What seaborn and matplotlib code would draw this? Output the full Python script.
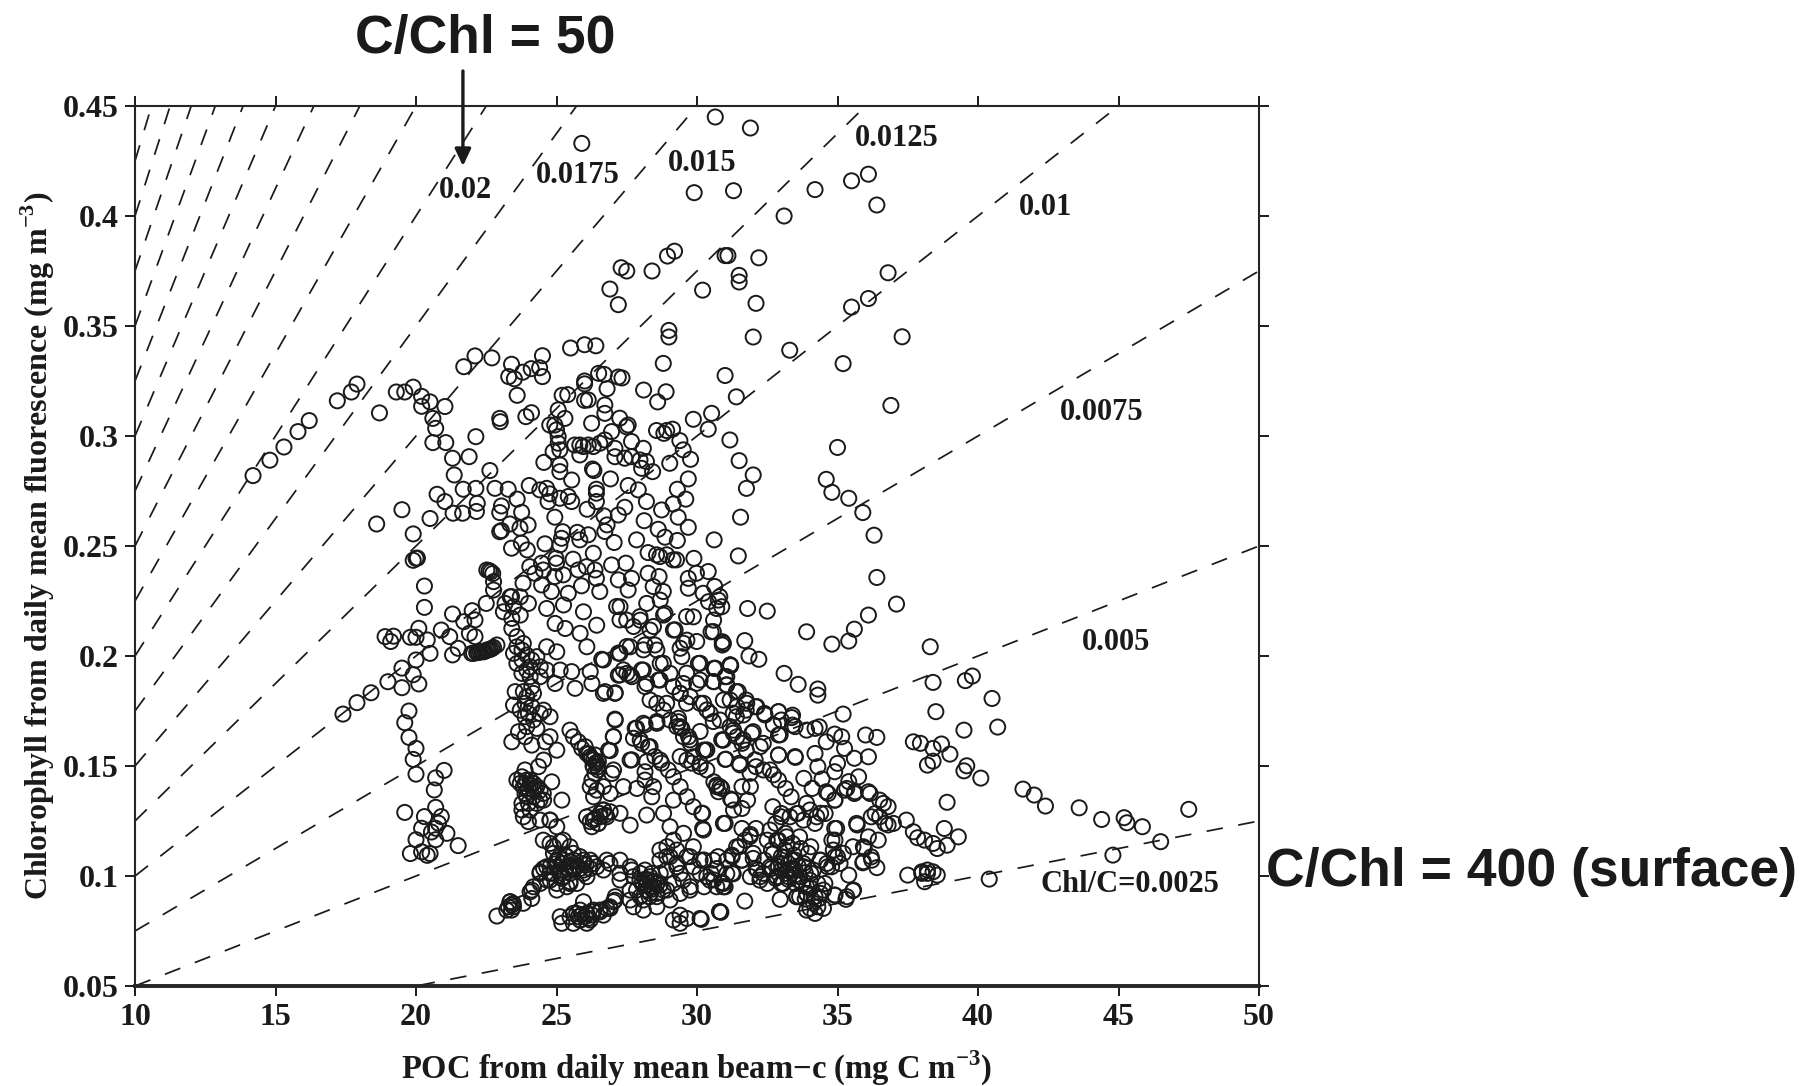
import pandas as pd
import seaborn as sns
from matplotlib import pyplot as plt

sns.set_theme(style='ticks')
plt.rcParams['font.family'] = ['Liberation Serif', 'DejaVu Sans']
plt.rcParams['font.weight'] = 'bold'
plt.rcParams['text.color'] = 'k'
plt.rcParams['axes.labelcolor'] = 'k'
plt.rcParams['mathtext.fontset'] = 'custom'
plt.rcParams['mathtext.bf'] = 'Liberation Serif:bold'
plt.rcParams['mathtext.rm'] = 'Liberation Serif:bold'

# Chl/C isolines
razoes = [0.0025, 0.005, 0.0075, 0.01, 0.0125, 0.015, 0.0175, 0.02, 0.0225, 0.025,
          0.0275, 0.03, 0.0325, 0.035, 0.0375, 0.04, 0.0425, 0.045]
limites_x = [10, 50]

xticks = [10, 15, 20, 25, 30, 35, 40, 45, 50]
yticks = [0.05, 0.1, 0.15, 0.2, 0.25, 0.3, 0.35, 0.4, 0.45]
ylabels = ['0.05', '0.1', '0.15', '0.2', '0.25', '0.3', '0.35', '0.4', '0.45']

# pontos (POC, Chl)
topo = [(25.9,.433),(27.3,.3765),(27.5,.375),(26.9,.3668),(27.2,.3597),(25.5,.34),(26,.3415),(26.4,.341),
        (22.1,.3364),(21.7,.3315),(22.7,.3355),(23.4,.3326),(24.5,.3365),(24.1,.3306),(24.4,.331),(23.8,.329),
        (23.3,.327),(23.5,.326),(24.5,.327),(23.6,.3185),(25.2,.3185),(25.4,.3188),(26,.3162),(26,.325),(26,.3237),
        (26.5,.3285),(26.7,.328),(27.2,.3268),(26.8,.3215),(27.33,.3264),(28.6,.3155),(31.4,.3178),
        (21.03,.3134),(22.98,.308),(23.0,.3065),(23.91,.3088),(24.11,.3106)]
esquerda = [(14.2,.282),(14.8,.289),(15.3,.295),(15.8,.302),(16.2,.307),(17.9,.3236),(17.7,.32),(17.2,.316),
            (18.7,.3105),(19.3,.32),(19.6,.32),(19.9,.3222),(20.2,.318),(20.5,.3155),(20.2,.3135),(20.6,.308),
            (20.7,.3035),(20.6,.297),(20.75,.2735),(20.5,.2625),(18.6,.26),(19.5,.2665),(19.9,.2555),(20.05,.2445),
            (20.0,.2444),(19.9,.2435),(20.3,.2318),(20.3,.2221)]
direita_alto = [(30.65,.445),(31.9,.44),(29.9,.4106),(31.3,.4115),(33.1,.4),(34.2,.412),(35.5,.416),(36.1,.419),
                (36.4,.405),(29.2,.384),(28.95,.3818),(28.4,.375),(31,.382),(31.1,.382),(32.2,.381),(31.5,.373),
                (31.5,.37),(30.2,.3663),(32.1,.3603),(29,.348),(29,.345),(32,.345),(28.8,.333),(33.3,.339),
                (35.5,.3586),(36.1,.3625),(36.8,.3742),(37.3,.3451),(35.2,.3329),(31,.3275),(28.1,.3209),(28.9,.3201),
                (36.9,.3139),(35,.2948),(34.6,.2803),(34.8,.2744),(35.4,.2717),(35.9,.2652),(36.3,.2549),(36.4,.2357)]
meio = [(22.13,.2997),(21.06,.297),(21.3,.2899),(21.89,.2906),(21.36,.2823),(22.63,.2843),(21.68,.2758),(22.13,.2762),
        (22.81,.2762),(23.28,.2758),(21.03,.2702),(21.32,.2649),(21.66,.2649),(22.18,.2694),(22.15,.2657),(23.6,.2713),
        (23.04,.2682),(22.98,.2652),(23.76,.2653),(23.99,.2596),(23.34,.26),(23.04,.257),(22.98,.2565),(23.7,.2581),
        (23.4,.249),(23.75,.2513),(23.96,.2482),(24.94,.2631),(24.03,.2775),(24.41,.2755),(24.65,.2762),(24.76,.2737),
        (24.7,.2702),(25.12,.2717),(25.42,.2725),(25.54,.2702),(25.54,.28),(24.55,.288),(25.12,.2869),(25.12,.2838),
        (24.88,.2929),(24.76,.305),(25,.3028),(25.06,.2997),(25.06,.2967),(25.3,.308),(25.06,.3119),(24.94,.305),
        (25.12,.2937),(25.83,.2959),(25.65,.2959),(25.83,.2914),(25.95,.2952),(26.13,.2959),(26.31,.2952),(26.54,.2967),
        (26.72,.2982),(26.25,.3058),(26.72,.3103),(26.72,.3141),(26.13,.3164),(26.96,.302),(27.25,.3081),(27.55,.305),
        (27.49,.3042),(27.67,.2975),(27.08,.2944),(27.08,.2906),(27.43,.2899),(27.67,.2906),(28.09,.2944),(27.97,.2891),
        (28.2,.2884),(28.03,.2853),(28.42,.2838),(29.03,.2876),(28.56,.3025),(28.82,.3012),(28.92,.3025),(29.13,.3031),
        (29.39,.2979),(29.51,.2937),(29.77,.2894),(29.87,.3076),(30.52,.3103),(30.4,.3031),(31.17,.2982),(31.5,.2888),
        (32,.2823),(31.76,.2762),(29.69,.2805),(29.3,.2758),(29.6,.2713),(29.15,.2691),(28.74,.2664),(28.2,.2702),
        (27.91,.2755),(27.55,.2775),(26.92,.2805),(26.33,.2843),(26.28,.285),(26.42,.2758),(26.42,.274),(26.42,.2702),
        (26.09,.2667),(27.43,.2676),(27.2,.2641),(26.69,.2637),(26.8,.2596),(26.72,.2566),(26.13,.2551),(25.83,.2528),
        (25.74,.2562),(25.22,.2565),(25.18,.2535),(25.12,.2505),(24.59,.251),(27.05,.2516),(27.85,.2528),(28.12,.2615),
        (28.62,.2576),(28.86,.254),(29.33,.2631),(29.69,.2585),(29.3,.2525),(28.26,.247),(28.56,.246),(28.68,.2452),
        (28.92,.246),(29.15,.2437),(29.27,.2437),(29.89,.2444),(30.61,.2528),(31.55,.2631),(31.47,.2455),
        (26.31,.2467),(25.59,.244),(24.98,.2444),(25,.2422),(24.47,.2422),(24.05,.2406),(24.23,.2376),(24.53,.2391),
        (24.94,.2361),(25.24,.2369),(25.77,.2391),(26.07,.2406),(26.37,.2391),(26.96,.2414),(27.47,.2422),(28.26,.2376),
        (28.65,.2361),(27.2,.2346),(27.67,.2353),(26.42,.2353),(25.89,.2319),(23.81,.2331),(24.47,.2323),(23.4,.227),
        (24.82,.2293),(25.42,.2285),(26.54,.2293),(27.55,.23),(28.44,.2316),(28.8,.2293),(29.69,.2353),(29.98,.2376),
        (30.4,.2384),(30.63,.2316),(29.69,.2308),(30.22,.2285),(30.81,.227)]
arco = [(22.52,.2391),(22.6,.2388),(22.66,.2383),(22.73,.2375),(22.76,.2338),(22.76,.23),(23.17,.2239),(23.35,.2269),
        (23.47,.2224),(23.71,.2269),(24.0,.2239),(23.11,.2201),(23.41,.2171),(23.71,.2186),(23.41,.2125)]
ilha = [(21.3,.2191),(22.0,.2206),(22.1,.2164),(22.5,.2239),(21.7,.2156),(21.9,.2103),(22.1,.2088),(20.1,.2126),
        (20.9,.2118),(21.2,.2088),(18.9,.2088),(19.2,.209),(19.1,.2066),(19.8,.2085),(20.0,.2085),(20.4,.2073),
        (20.5,.2012),(21.3,.2005),(21.5,.2035),(21.98,.2012),(22.16,.2015),(22.28,.2019),(22.4,.2019),(22.52,.2027),
        (22.64,.203),(22.76,.2039),(22.88,.205),(22.05,.2012),(22.22,.2016),(22.34,.202),(22.46,.2022),(22.58,.2028),
        (22.7,.2034),(20.0,.1982),(19.5,.1945),(19.9,.1915),(20.1,.1873),(19.5,.1856),
        (19.0,.1883),(18.4,.1833),(17.9,.1788),(17.4,.1736),(19.75,.175),(19.6,.1697),(19.75,.163),(20.0,.158),
        (19.9,.153),(20.0,.1463),(21.0,.148),(20.7,.1446),(20.65,.1391),(19.6,.1289),(20.7,.1312),(20.3,.127),
        (20.9,.127),(20.8,.124),(20.2,.1217),(21.1,.1194),(20.7,.1217),(20.55,.12),(20.0,.1165),(20.7,.1165),
        (21.5,.1138),(19.8,.1102),(20.2,.111),(20.4,.1094),(20.5,.1102)]
cadeia = [(23.59,.2088),(23.82,.2057),(23.47,.2012),(23.59,.1966),(23.77,.1982),(23.94,.2004),(24.06,.1951),(24.3,.1997),
          (24.42,.1951),(24.65,.1936),(23.77,.1921),(24.06,.1906),(24.42,.1906),(24.12,.186),(24.18,.183),(23.82,.1838),
          (23.53,.1838),(23.47,.1777),(23.88,.1785),(24.0,.1739),(24.18,.1709),(24.42,.1739),(23.94,.1679),(24.3,.1671),
          (24.54,.1754),(24.77,.1724),(23.65,.1656),(23.41,.161),(23.88,.1633),(24.12,.1595),(24.6,.161),(25.01,.1572),
          (24.77,.1633),(23.71,.1754),(23.88,.1724),(24.12,.177),(23.94,.1815),(23.77,.2027),(23.59,.2042),(24.12,.1982),
          (23.94,.1936),(24.65,.2042),(25.01,.2019),(25.13,.1936),(25.54,.1929),(24.95,.1875),(25.66,.1853),(26.2,.1929),
          (26.26,.1875),(26.61,.1985),(26.08,.2042),(26.67,.183),(27.09,.1833),(27.09,.1709),(27.03,.1633),(26.85,.1572),
          (25.48,.1663),(25.6,.1633),(25.78,.161),(25.9,.158),(26.08,.1557),(26.2,.1542),(26.32,.1527),(26.43,.1512),
          (26.49,.1482),(26.37,.1466),(26.26,.1436),(26.2,.1406),(26.43,.139),(26.67,.1406),(26.97,.1466),(27.03,.1482),
          (26.32,.136),(26.91,.1375),(26.37,.155),(26.49,.152),(26.32,.1497),(26.02,.1588),(26.25,.1535),(26.4,.1515),
          (26.15,.1555),(26.3,.15),(26.45,.1495)]
bolha_a = [(23.59,.1436),(23.77,.1451),(23.94,.1436),(24.06,.1413),(24.24,.1398),(24.42,.139),(24.18,.136),(23.88,.1375),
           (23.77,.133),(24.0,.133),(24.3,.133),(24.54,.1345),(24.83,.1428),(24.54,.1527),(24.36,.1497),(23.88,.1482),
           (25.19,.1345),(23.71,.1421),(23.88,.1421),(24.06,.1436),(24.18,.1421),(24.0,.1398),(23.82,.1269),(24.0,.1247),
           (24.42,.1254),(24.77,.1254),(25.01,.1224),(23.77,.13),(26.2,.1247),(26.37,.1262),(26.55,.1269),(26.73,.1277),
           (26.91,.1292),(26.49,.1239),(26.26,.1224),(26.67,.13)]
bolha_b = [(24.77,.1148),(25.13,.1156),(25.48,.1133),(24.89,.1103),(25.37,.1088),(25.84,.1088),(26.2,.1072),(26.43,.1042),
           (26.79,.1072),(24.54,.1034),(24.77,.1012),(25.13,.1027),(25.48,.1012),(25.96,.1012),(24.65,.0982),(25.01,.0966),
           (25.37,.0951),(25.72,.0966),(26.08,.0997),(24.42,.1019),(25.6,.1072),(25.96,.1057),(26.2,.1034),(25.84,.1034),
           (25.6,.1042),(25.25,.1057),(25.01,.1072),(24.77,.1042),(24.89,.1012),(25.19,.0989),(25.48,.0974)]
bolha_c = [(27.26,.1072),(27.62,.1042),(27.26,.0982),(27.74,.0997),(27.98,.1012),(28.21,.0982),(28.57,.0966),(28.93,.0936),
           (28.69,.1012),(28.33,.0921),(27.98,.0906),(27.62,.0936),(27.74,.086),(28.09,.0845),(28.57,.086),(29.04,.0891),
           (29.4,.0921),(29.76,.0951),(28.33,.0982),(28.45,.0951),(28.21,.0936),(28.57,.0921),(28.04,.0966),(28.69,.0959),
           (28.39,.1012),(28.15,.1027)]
fundo = [(22.88,.0818),(23.23,.0845),(23.41,.0868),(23.35,.0883),(23.47,.086),(23.82,.0876),(24.12,.0898),(24.12,.0936),
         (24.42,.0966),(25.13,.0815),(25.19,.0785),(25.48,.0815),(25.72,.083),(25.84,.08),(26.08,.083),(26.32,.0838),
         (26.55,.0845),(26.67,.0822),(26.91,.0853),(27.03,.0883),(27.09,.0906),(25.96,.0883),(25.6,.0785),(26.2,.08),
         (26.08,.0785),(25.9,.0823),(25.78,.0815),(26.02,.0815),(26.26,.0823),(29.16,.08),(29.4,.0785),(29.64,.0807),
         (30.11,.0807),(30.82,.0838),(30.85,.0835),(29.4,.0822)]
centro = [(27.62,.1231),(27.26,.1285),(27.38,.1406),(27.86,.1398),(28.21,.1277),(28.39,.136),(27.62,.1527),(27.8,.1671),
          (28.09,.1694),(28.57,.1694),(27.98,.1618),(28.27,.1588),(28.21,.152),(28.15,.1474),(28.15,.1436),(28.45,.1406),
          (28.69,.1527),(28.98,.1482),(29.16,.1451),(29.4,.1406),(29.64,.136),(29.87,.1315),(30.17,.1285),(30.23,.1209),
          (29.16,.1345),(28.81,.1285),(29.04,.1224),(29.16,.1163),(28.93,.1133),(29.52,.1194),(29.87,.1133),(29.64,.1088),
          (29.04,.1088),(29.28,.1042),(29.87,.1042),(30.23,.1072),(30.7,.1034),(30.94,.0951),(30.35,.0997),(30.7,.0951),
          (31.24,.1095),(30.94,.1239),(31.24,.1345),(30.6,.1428),(30.7,.1413),(30.82,.1406),(30.88,.1398),(30.76,.1383),
          (28.57,.1785),(28.81,.1754),(29.04,.1709),(29.28,.1679),(29.52,.1633),(29.76,.1603),(29.87,.1542),(30.11,.1512),
          (30.35,.1482),(29.64,.1527),(30.23,.1572),(29.34,.1701),(29.46,.1671),(29.7,.1633),(29.4,.183),(29.76,.1815),
          (30.11,.1785),(30.47,.1739),(30.82,.1709),(31.18,.1679),(31.42,.1633),(30.94,.1618),(30.76,.2254),(30.88,.2224),
          (30.41,.2247),(30.59,.2163),(29.87,.2178),(28.69,.2254),(28.21,.2239),(24.65,.2216),(25.25,.2232),(25.96,.2201),
          (26.43,.214),(25.84,.2103),(24.95,.2148),(25.31,.2125),(27.5,.2163),(27.26,.2224),(27.98,.2163),(28.33,.2118),
          (29.16,.2118),(29.64,.2072),(29.4,.2035),(28.81,.2186),(30.05,.1966),(30.65,.1944),(31.18,.1959),(30.94,.2057),
          (27.26,.2012),(27.62,.2042),(28.15,.205),(28.57,.2027),(28.69,.1966),(28.09,.1936),(27.5,.1921),(27.2,.1913),
          (27.68,.1906),(28.21,.1875),(28.69,.1891),(29.04,.1921),(30.11,.1891),(30.94,.18),(31.42,.177),(29.16,.186),
          (29.52,.1875)]
direita_baixo = [(30.7,.2216),(30.5,.211),(31.8,.2216),(32.5,.2204),(31.7,.207),(30.9,.2065),(30.9,.205),(31.85,.2),
                 (32.2,.1985),(30.6,.1944),(31.2,.1956),(31.0,.1906),(30.6,.1883),(31.05,.1868),(33.9,.211),(34.8,.2054),
                 (35.4,.2068),(35.6,.2122),(36.1,.2186),(37.1,.2236),(38.3,.2042),(38.4,.188),(39.55,.1888),(39.8,.1909),
                 (40.5,.1807),(38.5,.1747),(39.5,.1663),(40.7,.1677),(35.2,.1736),(33.1,.1921),(33.6,.1871),(34.3,.185),
                 (34.3,.1822),(37.7,.161),(37.95,.1603),(38.7,.16),(38.4,.158),(39.0,.1554),(38.4,.1522),(38.2,.1504),
                 (39.6,.1501),(39.5,.1478),(40.1,.1445),(38.9,.1335),(41.6,.1395),(42,.1368),(42.4,.1318),(43.6,.131),
                 (44.4,.1257),(45.2,.1265),(45.3,.1242),(45.85,.1224),(47.5,.1303),(46.5,.1156),(44.8,.1095),(40.4,.0986),
                 (37.5,.1004),(38.0,.1019),(38.2,.1027),(38.4,.1019),(38.55,.1004),(38.1,.0974),(38,.1012),(38.2,.1012),
                 (38.8,.1216),(39.3,.1178),(38.9,.114),(38.55,.1125),(38.4,.1148),(38.1,.1163),(37.85,.1174),(37.7,.1201),
                 (37.45,.1254),(36.8,.1315),(36.5,.1345),(36.1,.1383),(35.75,.1451),(35.4,.1429),(35.6,.1375),(35.25,.139),
                 (36.8,.1232),(36.5,.1269),(36.2,.1269),(36.1,.1542),(36.4,.163),(36,.1641),(35.6,.1535),(35.25,.158),
                 (35.15,.1633),(34.9,.1645),(34.6,.161),(34.2,.1557),(33.5,.1539),(32.9,.155),(35,.1512),(34.9,.1474),
                 (34.3,.1497),(34.45,.1441),(33.8,.1444),(34.6,.1383),(34.9,.1345),(34.1,.1398),(34.35,.1678),(34.2,.1671),
                 (33.9,.1663),(33.4,.1686),(33.4,.1731),(32.9,.1641),(32.9,.1747),(33.0,.1709),(32.4,.1739),(32.1,.1769),
                 (31.75,.18),(31.4,.1838),(31.75,.1754),(31.4,.1724),(32.0,.1656),(31.6,.1603),(31.3,.1663),(30.9,.1618),
                 (30.3,.1572),(31,.153),(31.5,.1512),(32.1,.1497),(31.75,.1572),(32.25,.1588),(32.6,.1482),(32.9,.1436),
                 (33.15,.1398),(33.35,.136),(31.8,.1345),(31.9,.1406),(31.6,.1406),(30.7,.1406),(31.2,.135),(31.3,.13),
                 (31.6,.1307),(32.7,.1315),(31,.1239),(30.2,.1285),(30.2,.1216),(33.9,.133),(34.4,.1285),(33.6,.1285),
                 (34.2,.1239),(33.0,.1269),(32.8,.1239),(34.9,.1216),(35.7,.1232),(36.1,.1178),(36.45,.1163),(35.95,.1125),
                 (35.55,.1133),(35.9,.106),(36.2,.1087),(36.4,.1038),(35.4,.1004),(35,.1087),(34.8,.1163)]
bolha_d = [(32.5,.1163),(32.65,.1118),(32.9,.1163),(33.15,.1194),(33.4,.1148),(33.65,.1178),(34.05,.1133),(32.4,.1072),
           (32.65,.1034),(33.0,.1088),(33.25,.1057),(33.5,.1072),(33.8,.1042),(34.05,.1012),(34.4,.1072),(32.8,.0989),
           (33.0,.0966),(33.25,.0997),(33.5,.0966),(33.9,.0951),(34.3,.0966),(32.25,.0997),(32.5,.0966),(32.9,.1042),
           (33.15,.1012),(33.4,.1027),(33.65,.0997),(34.55,.0966),(34.65,.1042),(34.85,.1118),(32.96,.0894),(33.65,.0906),
           (34.15,.0876),(33.9,.0845),(34.5,.0853),(34.2,.083),(34.35,.0898),(34.9,.0913),(35.3,.0894),(35.55,.0933),
           (34.4,.0921),(33.9,.0921),(33.55,.0906),(31.7,.0886),(30.8,.0838),(30.15,.0803),(31.6,.1216),(31.9,.1189),
           (32.1,.1216),(31.5,.1133),(32.0,.1103),(31.25,.1088),(30.75,.1088),(30.25,.1072),(30.5,.1012),(30.9,.097),
           (31.0,.0951),(31.25,.1012),(31.6,.1072),(30.25,.0951),(30.6,.0982),(32.15,.1027),(31.9,.0997)]
bolha_e = [(32.6,.1209),(32.84,.1163),(32.72,.1103),(32.6,.1042),(32.84,.0997),(33.07,.0966),(33.0,.1057),(33.13,.1118),
           (33.19,.1178),(33.37,.1072),(33.49,.1027),(33.61,.0981),(33.79,.1057),(33.96,.1103),(34.14,.1027),(34.02,.0981),
           (34.38,.1072),(34.62,.1057),(33.9,.092),(34.2,.0906),(34.3,.086),(34.02,.0853),(34.5,.0936),(33.55,.0906),
           (33.25,.1027),(33.0,.1027),(32.36,.1012),(32.24,.0981),(33.55,.1284),(33.79,.1254),(34.02,.13),(33.31,.1269),
           (33.0,.1284),(34.26,.1269),(34.56,.1284),(34.91,.1345),(34.67,.1375),(34.97,.1216),(34.91,.1163),(35.21,.1103),
           (34.91,.1088),(34.79,.1042),(35.09,.1057),(31.71,.1163),(31.89,.118),(31.41,.1133),(31.59,.1072),(32,.108),
           (32.1,.1034),(31.06,.1072),(31.06,.101),(31.29,.101),(30.94,.0966),(35.92,.1065),(36.22,.1072),(35.92,.1133),
           (36.34,.1284),(36.69,.1239),(36.99,.1239),(36.16,.1375),(36.63,.133),(35.68,.1239),(35.62,.1383),(35.33,.1398),
           (35.57,.0936),(35.33,.0906),(34.91,.0913),(33.2,.1135),(33.45,.1095),(33.7,.1125),(33.1,.1085),(33.35,.1035),
           (33.6,.1045),(33.85,.1015),(33.25,.0985),(33.5,.1005),(33.75,.0965),(34.05,.0945),(33.85,.0895)]
bolha_f = [(24.53,.1163),(24.89,.1133),(25.24,.1163),(25.6,.1103),(25.96,.1072),(26.31,.1057),(26.67,.1027),(25.24,.1072),
           (25.01,.1042),(24.65,.1042),(24.41,.1012),(24.77,.0981),(25.24,.0997),(25.6,.1027),(25.96,.1027),(25.48,.0966),
           (25.01,.0936),(26.9,.1057),(27.26,.1012),(27.68,.1027),(27.97,.0981),(28.33,.0997),(28.57,.0966),(28.21,.0936),
           (28.8,.0936),(27.85,.0936),(28.57,.0906),(28.09,.0891),(27.62,.0891),(29.16,.0966),(29.51,.0981),(28.92,.1088),
           (29.28,.1057),(28.68,.1118),(29.28,.1118),(29.75,.1088),(28.68,.1072),(28.92,.1027),(29.4,.1012),(29.75,.0936),
           (30.11,.1012),(30.46,.0981),(30.58,.1072),(30.11,.1072),(25.6,.083),(25.84,.0845),(26.07,.083),(26.31,.0845),
           (26.55,.0837),(26.79,.0853),(25.84,.08),(26.13,.0807),(27.08,.089),(26.9,.086),(26.31,.1254),(26.55,.1284),
           (26.79,.1269),(26.49,.1239),(26.67,.13),(26.07,.1269),(24.18,.139),(23.94,.136),(24.41,.1345),(24.3,.1406),
           (23.82,.1406),(24.53,.1375),(24.06,.13),(24.77,.1254),(23.35,.0883),(23.46,.0875),(23.29,.086),(23.4,.0845),
           (24.06,.0928),(24.18,.0951),(25.3,.1095),(25.5,.1065),(25.75,.1045),(26.05,.105),(25.35,.104),(25.15,.1015),
           (28.2,.096),(28.4,.094),(28.45,.0975),(28.15,.0985),(28.3,.0905),(24.95,.1055),(25.1,.1085)]
faixa = [(27.14,.2225),(27.26,.2164),(27.97,.2179),(27.74,.2134),(28.45,.2134),(28.86,.2194),(29.22,.2119),(29.63,.2179),
         (29.99,.2066),(29.52,.2058),(29.46,.1997),(27.5,.2043),(28.09,.2028),(28.5,.205),(27.2,.2013),(26.67,.1982),
         (27.38,.1937),(27.62,.1914),(27.26,.1914),(28.03,.1937),(28.8,.1967),(28.63,.1891),(28.15,.1861),(26.73,.1838),
         (27.08,.183),(28.33,.18),(28.92,.1785),(29.4,.183),(29.63,.1785),(30.11,.1967),(29.63,.1922),(29.99,.1876),
         (30.58,.1884),(30.64,.1944),(31.18,.196),(31.06,.1906),(31.06,.1869),(30.23,.1785),(30.35,.1755),(27.08,.1713),
         (27.85,.1672),(28.15,.1687),(28.57,.1702),(29.34,.1717),(29.4,.1679),(27.74,.1626),(27.02,.1634),(26.91,.157),
         (28.03,.1603),(28.33,.1588),(28.5,.1543),(27.68,.1528),(28.74,.1513),(29.4,.1543),(29.75,.1619),(30.11,.1657),
         (30.35,.1573),(29.81,.1513),(30.11,.1497),(30.88,.1619),(30.58,.1702),(31.18,.18),(31.47,.1838),(31.77,.1785),
         (32.13,.177),(31.29,.174),(31.65,.1732),(32.42,.1732),(32.9,.1747),(33.37,.172),(32.72,.1687),(32.96,.1642),
         (33.49,.1679),(31.29,.1649),(31.65,.1619),(31.95,.1649),(32.36,.1603),(32.9,.155),(31.03,.1531),(31.53,.1505),
         (32.07,.1528),(32.36,.1482),(33.49,.1543),(32.72,.146),(31.89,.1467),(30.58,.2111)]

pontos = (topo + esquerda + direita_alto + meio + arco + ilha + cadeia + bolha_a + bolha_b + bolha_c
          + fundo + centro + direita_baixo + bolha_d + bolha_e + bolha_f + faixa)
df = pd.DataFrame(pontos, columns=['poc', 'chl'])

fig = plt.figure(figsize=(18.09, 10.86), dpi=100)
ax = fig.add_axes([135/1809, 1 - 986/1086, 1124/1809, 880/1086])

for r in razoes:
    sns.lineplot(x=limites_x, y=[r*v for v in limites_x], color='k', lw=1.25,
                 linestyle=(0, (9.5, 9)), errorbar=None, ax=ax)

sns.scatterplot(data=df, x='poc', y='chl', marker='o', s=118, facecolor='none',
                edgecolor='k', linewidth=1.4, ax=ax, clip_on=False, zorder=3)

ax.set_xlim(10, 50)
ax.set_ylim(0.05, 0.45)
ax.set_xticks(xticks)
ax.set_yticks(yticks)
ax.set_yticklabels(ylabels)
ax.tick_params(axis='both', direction='out', length=7, width=1.4, labelsize=23,
               top=True, right=True, pad=5, colors='k')
for lado in ['top', 'left', 'right']:
    ax.spines[lado].set_visible(True)
    ax.spines[lado].set_linewidth(1.5)
ax.spines['bottom'].set_visible(True)
ax.spines['bottom'].set_linewidth(2.8)
for lab in ax.get_xticklabels() + ax.get_yticklabels():
    lab.set_fontweight('bold')

ax.set_xlabel('POC from daily mean beam\u2212c (mg C m$^{\\mathbf{-3}}$)', fontsize=23.5, fontweight='bold', labelpad=12)
ax.set_ylabel('Chlorophyll from daily mean fluorescence (mg m$^{\\mathbf{-3}}$)', fontsize=23, fontweight='bold', labelpad=4)

rotulos = [('0.02', 21.75, .4117), ('0.0175', 25.77, .4186), ('0.015', 30.2, .4238), ('0.0125', 37.1, .4353),
           ('0.01', 42.4, .4039), ('0.0075', 44.4, .3106), ('0.005', 44.9, .2062), ('Chl/C=0.0025', 45.4, .0961)]
for txt, xr, yr in rotulos:
    ax.text(xr, yr, txt, fontsize=22, fontweight='bold', ha='center', va='center', zorder=4)

# seta e titulos em sans
ax.annotate('', xy=(21.67, .4227), xytext=(21.67, .4659), annotation_clip=False,
            arrowprops=dict(arrowstyle='-|>,head_length=0.85,head_width=0.4', color='k', lw=2.4, shrinkA=0, shrinkB=0))
fig.text(485/1809, 1 - 39/1086, 'C/Chl = 50', family='Liberation Sans', fontsize=38.5, fontweight='bold',
         ha='center', va='center', color='k')
fig.text(1532/1809, 1 - 872/1086, 'C/Chl = 400 (surface)', family='Liberation Sans', fontsize=38.5, fontweight='bold',
         ha='center', va='center', color='k')

plt.savefig('out.png', dpi=100)
